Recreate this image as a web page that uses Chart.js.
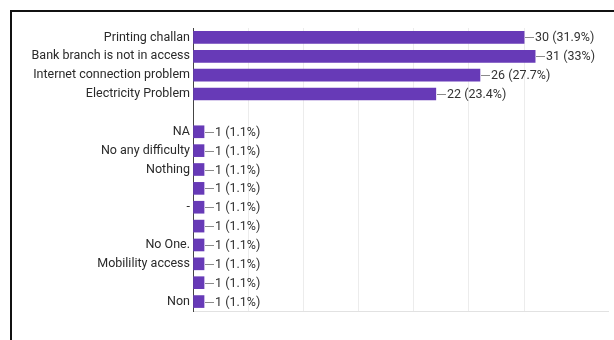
<!DOCTYPE html>
<html>
<head>
<meta charset="utf-8">
<script src="https://cdn.jsdelivr.net/npm/chart.js@4.4.1/dist/chart.umd.min.js"></script>
<style>
  html, body { margin: 0; padding: 0; background: #fff; }
  #wrap { position: relative; width: 614px; height: 340px; overflow: hidden; }
  #frame {
    position: absolute; left: 10px; top: 10px; right: -4px; bottom: -4px;
    border-top: 2px solid #111; border-left: 2px solid #111;
    pointer-events: none;
  }
</style>
</head>
<body>
<div id="wrap">
  <canvas id="answers" width="614" height="340"></canvas>
  <div id="frame"></div>
</div>
<script>
// responses per answer (empty rows have no label)
var answers = ["Printing challan", "Bank branch is not in access", "Internet connection problem",
    "Electricity Problem", "", "NA", "No any difficulty", "Nothing", "", "-", "", "No One.",
    "Mobilility access", "", "Non"];
var counts = [30, 31, 26, 22, null, 1, 1, 1, 1, 1, 1, 1, 1, 1, 1];
var shares = ["31.9%", "33%", "27.7%", "23.4%", "", "1.1%", "1.1%", "1.1%", "1.1%", "1.1%",
    "1.1%", "1.1%", "1.1%", "1.1%", "1.1%"];

// "—30 (31.9%)" style label just after each bar
var valueLabels = {
    id: 'valueLabels',
    afterDatasetsDraw: function(chart) {
        var ctx = chart.ctx;
        var meta = chart.getDatasetMeta(0);
        ctx.save();
        ctx.font = '12.5px Roboto';
        ctx.textBaseline = 'middle';
        ctx.textAlign = 'left';
        meta.data.forEach(function(bar, i) {
            if (counts[i] == null) return;
            var x = Math.round(bar.x), y = Math.round(bar.y) + 0.5;
            ctx.strokeStyle = '#8a8a8a';
            ctx.lineWidth = 1;
            ctx.beginPath();
            ctx.moveTo(x + 1, y);
            ctx.lineTo(x + 10, y);
            ctx.stroke();
            ctx.fillStyle = '#333';
            ctx.fillText(counts[i] + ' (' + shares[i] + ')', x + 11, y);
        });
        ctx.restore();
    }
};

var ctx = document.getElementById('answers').getContext('2d');
var chart = new Chart(ctx, {
    type: 'bar',
    data: {
        labels: answers,
        datasets: [{
            data: counts,
            backgroundColor: '#673ab7',
            barThickness: 12
        }]
    },
    options: {
        indexAxis: 'y',
        responsive: false,
        animation: false,
        layout: { padding: { left: 0, top: 28, right: 6, bottom: 29 } },
        plugins: {
            legend: { display: false },
            tooltip: { enabled: false }
        },
        scales: {
            x: {
                min: 0,
                max: 37.6,
                ticks: { display: false, stepSize: 5 },
                afterBuildTicks: function(scale) {
                    scale.ticks = scale.ticks.filter(function(t) { return t.value % 5 === 0; });
                },
                afterFit: function(scale) { scale.height = 0; },
                grid: { color: '#ececec', drawTicks: false },
                border: { color: '#e2e2e2' }
            },
            y: {
                afterFit: function(scale) { scale.width = 193; },
                ticks: {
                    font: { family: 'Roboto', size: 12.5 },
                    color: '#2a2a2a',
                    padding: 3,
                    autoSkip: false
                },
                grid: { display: false, drawTicks: false },
                border: { color: '#444', width: 1 }
            }
        }
    },
    plugins: [valueLabels]
});
</script>
</body>
</html>
